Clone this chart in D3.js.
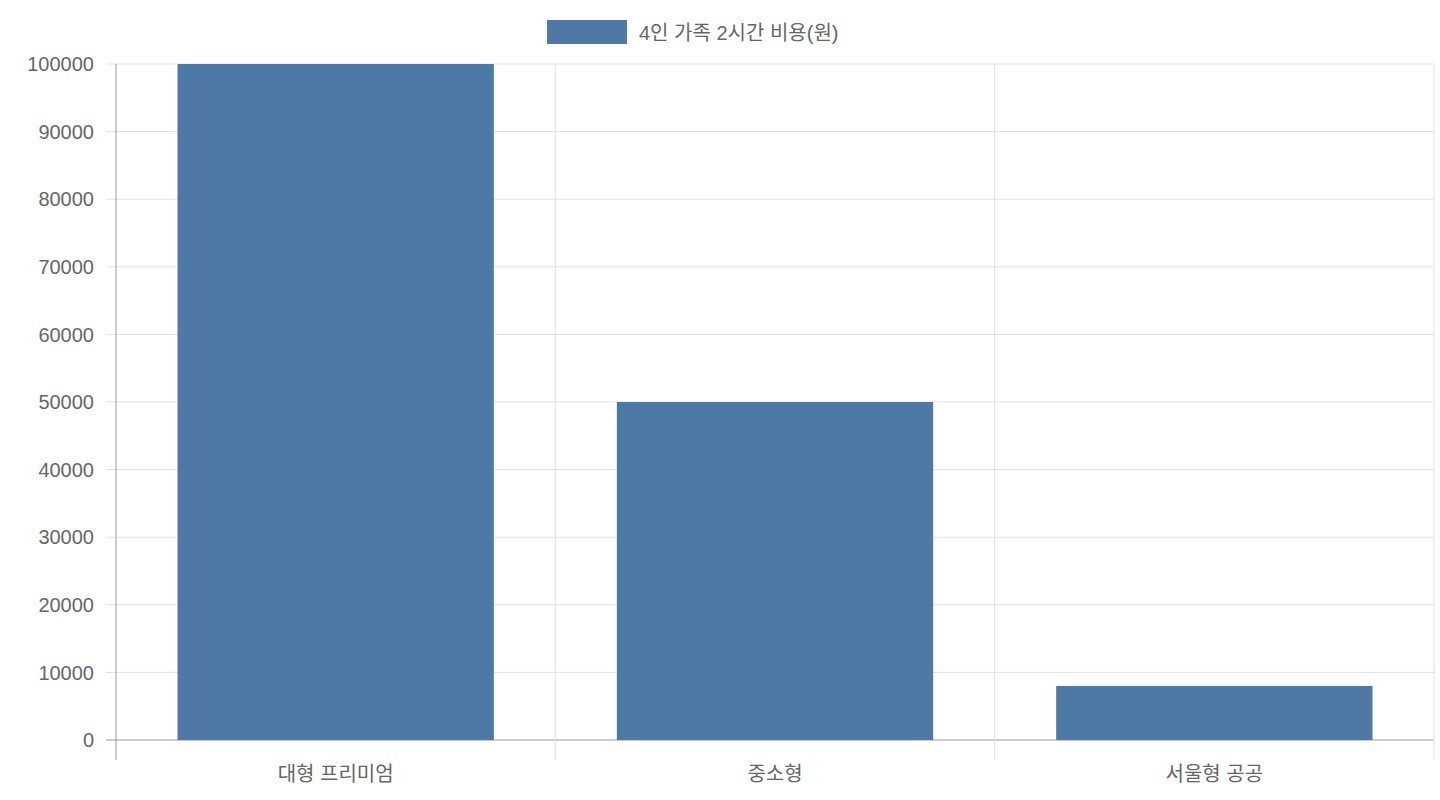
<!DOCTYPE html>
<html><head><meta charset="utf-8">
<script src="https://cdn.jsdelivr.net/npm/d3@7"></script>
<style>body{margin:0;background:#fff}text{font-family:"Liberation Sans","Noto Sans CJK KR",sans-serif;fill:#666}</style>
</head><body><svg id="c" width="1440" height="800"></svg>
<script>
const categories = ["대형 프리미엄", "중소형", "서울형 공공"];
const values = [100000, 50000, 8000];
const seriesName = "4인 가족 2시간 비용(원)";
const yTicks = [0,10000,20000,30000,40000,50000,60000,70000,80000,90000,100000];

const svg = d3.select("#c");
const pLeft = 116, pRight = 1434, pTop = 64, pBottom = 740;
const x = d3.scaleBand().domain(categories).range([pLeft, pRight]);
const y = d3.scaleLinear().domain([0, 100000]).range([pBottom, pTop]);

// horizontal grid
svg.selectAll(".hg").data(yTicks).enter().append("line")
  .attr("x1", pLeft - 10).attr("x2", pRight)
  .attr("y1", d => y(d)).attr("y2", d => y(d))
  .attr("stroke", d => d === 0 ? "#999" : "#e1e1e1").attr("stroke-width", 1);
// vertical grid
const vx = categories.map(c => x(c)).concat([pRight]);
svg.selectAll(".vg").data(vx).enter().append("line")
  .attr("x1", d => d).attr("x2", d => d)
  .attr("y1", pTop).attr("y2", pBottom + 20)
  .attr("stroke", (d, i) => i === 0 ? "#999" : "#e1e1e1");

svg.selectAll(".yl").data(yTicks).enter().append("text")
  .attr("x", 94).attr("y", d => y(d)).attr("dy", "0.36em")
  .attr("text-anchor", "end").attr("font-size", 20).text(d => d);

const bw = x.bandwidth() * 0.72;
svg.selectAll(".bar").data(values).enter().append("rect")
  .attr("x", (d, i) => x(categories[i]) + (x.bandwidth() - bw) / 2)
  .attr("width", bw)
  .attr("y", d => y(d)).attr("height", d => pBottom - y(d))
  .attr("fill", "#4e79a7");

svg.selectAll(".xl").data(categories).enter().append("text")
  .attr("x", d => x(d) + x.bandwidth() / 2).attr("y", 774).attr("dy", "0.36em")
  .attr("text-anchor", "middle").attr("font-size", 20).text(d => d);

svg.append("rect").attr("x", 547).attr("y", 20).attr("width", 80).attr("height", 24).attr("fill", "#4e79a7");
svg.append("text").attr("x", 639).attr("y", 33).attr("dy", "0.36em").attr("font-size", 20).text(seriesName);
</script></body></html>
